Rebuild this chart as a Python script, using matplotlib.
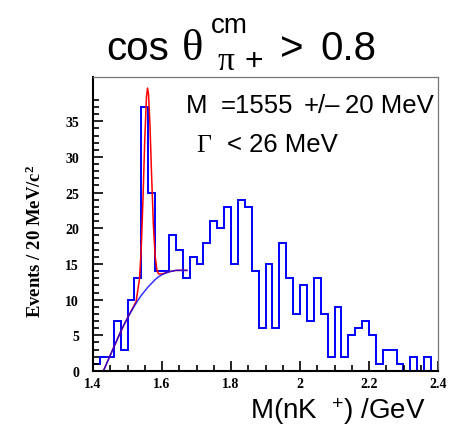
import numpy as np
import matplotlib
matplotlib.use('Agg')
import matplotlib.pyplot as plt
from matplotlib.ticker import FixedLocator

plt.rcParams['mathtext.fontset'] = 'custom'
plt.rcParams['mathtext.rm'] = 'Liberation Sans'
plt.rcParams['mathtext.it'] = 'Liberation Serif'
plt.rcParams['mathtext.bf'] = 'Liberation Serif:bold'

# histogram: M(nK+) in 20 MeV bins from 1.40 to 2.40 GeV
bin_edges = np.round(np.arange(1.40, 2.4001, 0.02), 2)
counts = [1, 2, 2, 7, 3, 10, 13, 37, 25, 14,
          14, 19, 17, 13, 16, 15, 18, 21, 20, 23,
          15, 24, 23, 14, 6, 15, 6, 18, 13, 8,
          12, 7, 13, 8, 2, 9, 2, 5, 6, 7,
          5, 1, 3, 3, 1, 0, 2, 0, 2, 0]

# background curve
bg_x = [1.430, 1.440, 1.450, 1.460, 1.470, 1.480, 1.490, 1.500, 1.510, 1.520,
        1.530, 1.540, 1.550, 1.560, 1.570, 1.580, 1.590, 1.600, 1.610, 1.620,
        1.630, 1.640, 1.650, 1.660, 1.672]
bg_y = [0.0, 1.1, 2.2, 3.3, 4.4, 5.5, 6.5, 7.4, 8.3, 9.1,
        9.9, 10.6, 11.2, 11.8, 12.3, 12.8, 13.2, 13.5, 13.7, 13.9,
        14.0, 14.1, 14.1, 14.1, 14.1]

# full fit curve (peak + background)
fit_x = [1.430, 1.450, 1.470, 1.490, 1.505, 1.515, 1.525, 1.535, 1.540, 1.545,
         1.550, 1.555, 1.558, 1.561, 1.565, 1.570, 1.575, 1.580, 1.585, 1.590,
         1.600, 1.620, 1.640, 1.660, 1.672]
fit_y = [0.0, 2.2, 4.4, 6.5, 7.9, 8.8, 9.75, 13.0, 17.4, 24.3,
         32.4, 38.4, 39.65, 38.75, 34.65, 27.2, 20.45, 16.2, 14.2, 13.6,
         13.6, 13.9, 14.1, 14.1, 14.1]

x_ticks = [1.4, 1.6, 1.8, 2.0, 2.2, 2.4]
x_tick_labels = ['1.4', '1.6', '1.8', '2', '2.2', '2.4']
y_ticks = [0, 5, 10, 15, 20, 25, 30, 35]

W, H = 454, 427
fig = plt.figure(figsize=(W / 100, H / 100), dpi=100)
ax = fig.add_axes([93 / W, 1 - 372 / H, 345 / W, 294 / H])

ax.stairs(counts, bin_edges, color='blue', lw=1.4)
ax.plot(fit_x, fit_y, color='red', lw=1.1)
ax.plot(bg_x, bg_y, color='blue', lw=1.1, alpha=0.8)

ax.set_xlim(1.4, 2.4)
ax.set_ylim(0, 41.2)

#axis ticks, ROOT style
ax.xaxis.set_major_locator(FixedLocator(x_ticks))
ax.xaxis.set_minor_locator(FixedLocator(np.arange(1.40, 2.401, 0.05)))
ax.set_xticklabels(x_tick_labels)
ax.yaxis.set_major_locator(FixedLocator(y_ticks))
ax.yaxis.set_minor_locator(FixedLocator(np.arange(0, 39)))
ax.tick_params(which='both', direction='in', top=False, right=False, width=1.2)
ax.tick_params(which='major', length=7)
ax.tick_params(which='minor', length=4)
ax.tick_params(axis='y', pad=10)
ax.tick_params(axis='x', pad=4)
for lab in ax.get_xticklabels() + ax.get_yticklabels():
    lab.set_family('Liberation Serif')
    lab.set_weight('bold')
    lab.set_fontsize(10)

ax.spines['left'].set_linewidth(1.5)
ax.spines['bottom'].set_linewidth(1.5)
ax.spines['top'].set_color('#777777')
ax.spines['right'].set_color('#777777')
ax.spines['top'].set_linewidth(0.9)
ax.spines['right'].set_linewidth(0.9)

def px(x, y):
    return x / W, 1 - y / H

#y axis title
fig.text(*px(35, 241), r'Events / 20 MeV/c$^{\mathbf{2}}$', family='Liberation Serif',
         weight='bold', fontsize=13.5, rotation=90, ha='center', va='center')

#title pieces
fig.text(*px(106, 60), 'cos', family='Liberation Sans', fontsize=29, va='baseline')
fig.text(*px(182, 60), '\u03b8', family='Liberation Serif', fontsize=32, va='baseline')
fig.text(*px(211, 33), 'cm', family='Liberation Sans', fontsize=20, va='baseline')
fig.text(*px(217, 70), '\u03c0', family='Liberation Serif', fontsize=24, va='baseline')
fig.text(*px(245, 70), '+', family='Liberation Sans', fontsize=23, va='baseline')
fig.text(*px(280, 60), '>', family='Liberation Sans', fontsize=29, va='baseline')
fig.text(*px(320, 60), '0.8', family='Liberation Sans', fontsize=29, va='baseline')

#x axis title
fig.text(*px(425, 419), r'M(nK $\ ^{+}$) /GeV',
         family='Liberation Sans', fontsize=20, va='baseline', ha='right')

#fit results
fig.text(*px(186, 113), 'M', family='Liberation Sans', fontsize=18.5, va='baseline')
fig.text(*px(221, 113), '=1555', family='Liberation Sans', fontsize=18.5, va='baseline')
fig.text(*px(304, 113), '+/\u2013', family='Liberation Sans', fontsize=18.5, va='baseline')
fig.text(*px(345, 113), '20 MeV', family='Liberation Sans', fontsize=18.5, va='baseline')
fig.text(*px(196, 151.5), '\u0393', family='Liberation Serif', fontsize=18.5, va='baseline')
fig.text(*px(227, 151.5), '< 26 MeV', family='Liberation Sans', fontsize=18.5, va='baseline')

fig.savefig('out.png', dpi=100)
